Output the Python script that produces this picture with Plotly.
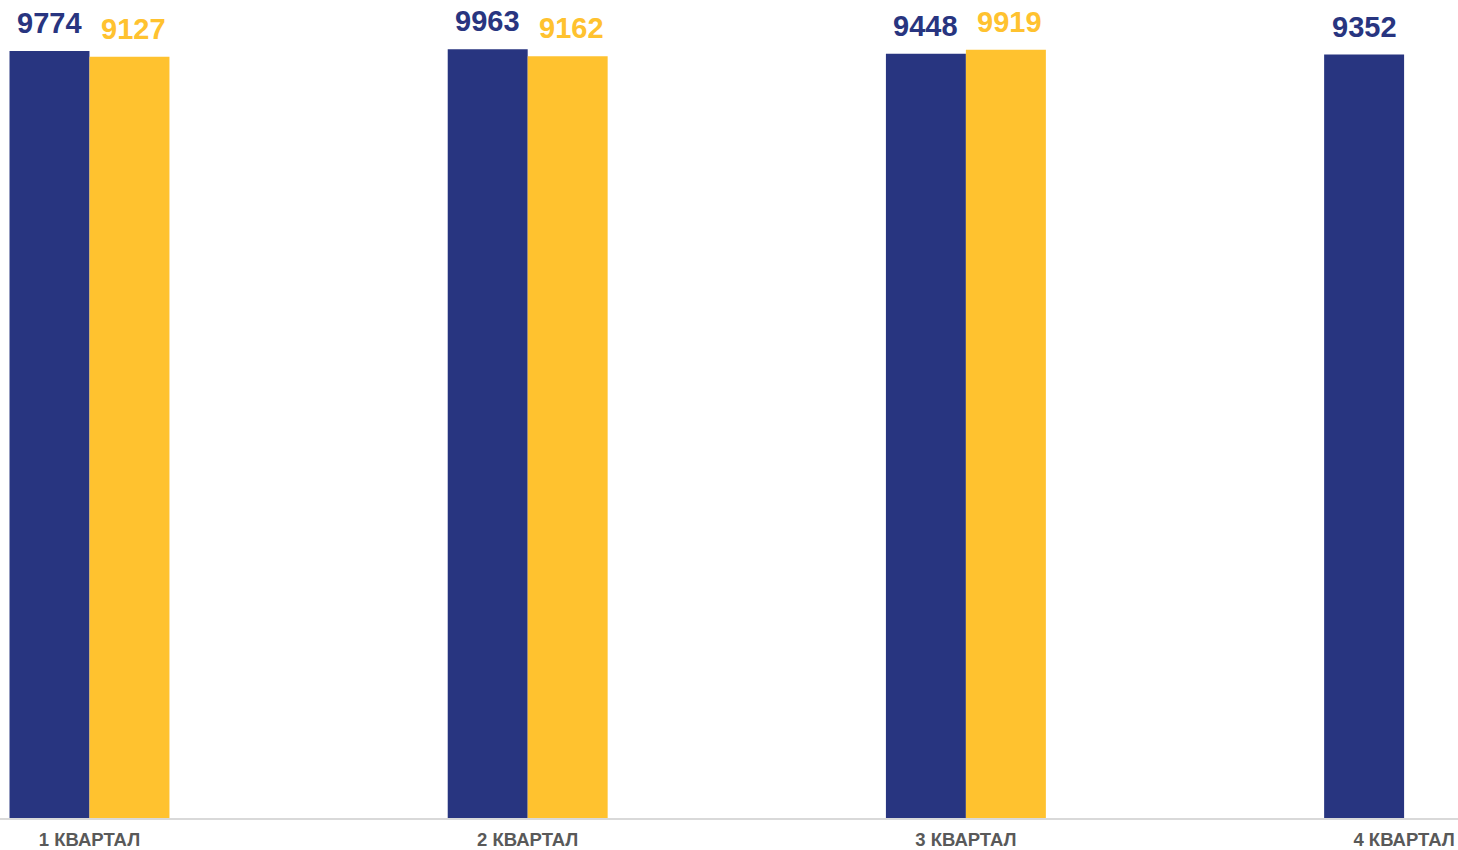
import math
import plotly.graph_objects as go

categories = ["1 КВАРТАЛ", "2 КВАРТАЛ", "3 КВАРТАЛ", "4 КВАРТАЛ"]
series_a = [9774, 9963, 9448, 9352]
series_b = [9127, 9162, 9919, None]

NAVY = "#283580"
GOLD = "#FFC22F"
FONT = "Liberation Sans, Arial, sans-serif"

fig = go.Figure()
fig.add_trace(go.Bar(x=categories, y=series_a, marker=dict(color=NAVY, line=dict(width=0)), name="A"))
fig.add_trace(go.Bar(x=categories, y=series_b, marker=dict(color=GOLD, line=dict(width=0)), name="B"))

annotations = []
for vals, color, shift in ((series_a, NAVY, -40), (series_b, GOLD, 44)):
    for c, v in zip(categories, vals):
        if v is None:
            continue
        annotations.append(dict(
            x=c, y=math.log10(v), xref="x", yref="y",
            text=f"<b>{v}</b>", showarrow=False,
            xshift=shift, yanchor="bottom", yshift=10,
            font=dict(family=FONT, size=29, color=color),
        ))

fig.update_layout(
    width=1458, height=850,
    margin=dict(l=0, r=0, t=49, b=32),
    paper_bgcolor="white", plot_bgcolor="white",
    barmode="group", bargap=0.635, bargroupgap=0,
    showlegend=False,
    annotations=annotations,
    xaxis=dict(
        type="category", range=[-0.2042, 3.123],
        showline=True, linecolor="#D9D9D9", linewidth=2,
        showgrid=False, ticks="", ticklabelstandoff=4,
        tickfont=dict(family=FONT, size=18.5, color="#595959", weight="bold"),
    ),
    yaxis=dict(
        type="log", range=[0, 4], visible=False, showgrid=False,
    ),
)

fig.write_html(
    "out.html",
    config={"displayModeBar": False},
    post_script="document.body.style.margin='0';document.body.style.overflow='hidden';",
)
